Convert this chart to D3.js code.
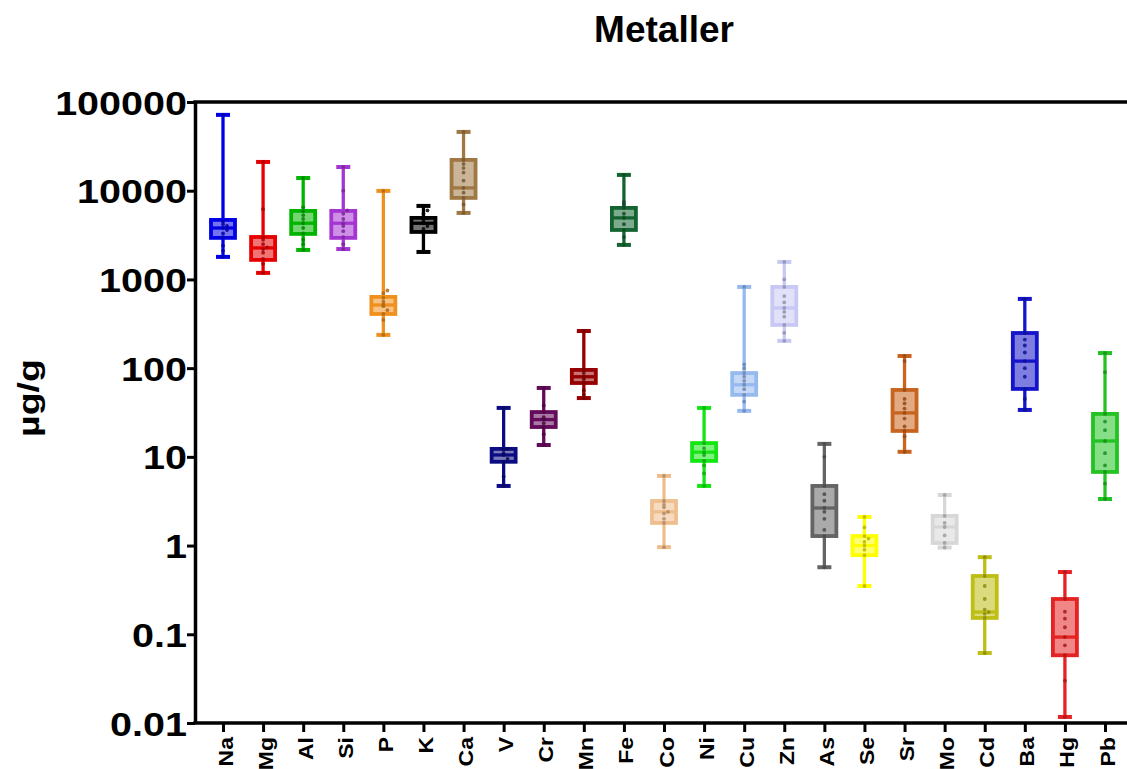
<!DOCTYPE html>
<html>
<head>
<meta charset="utf-8">
<script src="https://cdn.jsdelivr.net/npm/d3@7"></script>
<style>
  html, body { margin: 0; padding: 0; background: #fff; }
  svg { display: block; }
  text { font-family: "Liberation Sans", Arial, sans-serif; font-weight: bold; fill: #000; }
</style>
</head>
<body>
<svg id="chart" width="1127" height="769"></svg>
<script>
// ---------------- data ----------------
const categories = ["Na","Mg","Al","Si","P","K","Ca","V","Cr","Mn","Fe","Co","Ni","Cu","Zn","As","Se","Sr","Mo","Cd","Ba","Hg","Pb"];
const mins    = [1795, 1185, 2150, 2200, 237, 2040, 5620, 4.7, 13.6, 46, 2450, 0.96, 4.7, 33, 203, 0.57, 0.35, 11.4, 0.95, 0.0615, 33.8, 0.0117, 3.35];
const q1s     = [2940, 1660, 3260, 2940, 408, 3430, 8300, 8.8, 21.7, 68, 3610, 1.8, 9.0, 50, 307, 1.28, 0.78, 19.6, 1.07, 0.153, 58.3, 0.058, 6.76];
const medians = [3800, 2265, 4300, 4300, 515, 4300, 10760, 10.5, 26.3, 80, 4940, 2.4, 11.3, 65, 477, 2.65, 1.0, 31.3, 1.62, 0.178, 120, 0.093, 15.1];
const q3s     = [4690, 3010, 5920, 5920, 635, 4940, 22250, 12.3, 32, 95.5, 6400, 3.18, 14.3, 88, 823, 4.7, 1.28, 56.8, 2.16, 0.454, 249, 0.25, 30.5];
const maxs    = [71600, 21100, 13900, 18500, 9950, 6740, 46000, 35.6, 59.8, 262, 15070, 6.1, 35.6, 823, 1575, 14, 2.1, 137, 3.72, 0.74, 603, 0.503, 148];
const points = [
  [1795, 2100, 2400, 3000, 3300, 3600, 3800, 4000, 4200, 4500, 71600],
  [1185, 1500, 1700, 2000, 2200, 2300, 2500, 2800, 3000, 6200, 21100],
  [2150, 2500, 2800, 3300, 3800, 4300, 4800, 5300, 5900, 6500, 13900],
  [2200, 2500, 3000, 3500, 4000, 4300, 4800, 5500, 6000, 10000, 18500],
  [237, 350, 410, 450, 500, 520, 560, 620, 700, 750, 9950],
  [2040, 3400, 3700, 4000, 4300, 4600, 4900, 5500, 6000, 6740],
  [5620, 7000, 8300, 9500, 10760, 13000, 16000, 18000, 20000, 22250, 46000],
  [4.7, 6, 8.8, 9.5, 10.5, 11, 12, 12.3, 35.6],
  [13.6, 18, 21.7, 24, 26.3, 28, 32, 38, 59.8],
  [46, 50, 56, 68, 75, 80, 88, 95.5, 262],
  [2450, 3000, 3610, 4200, 4940, 5500, 6400, 7000, 7500, 15070],
  [0.96, 1.8, 2.0, 2.3, 2.4, 2.7, 2.9, 3.18, 6.1],
  [4.7, 6.5, 8, 9, 10.5, 11.3, 12.5, 14.3, 35.6],
  [33, 42, 50, 58, 65, 72, 80, 88, 100, 110, 823],
  [203, 250, 307, 380, 430, 477, 550, 650, 823, 1000, 1575],
  [0.57, 1.28, 1.5, 2.0, 2.4, 2.65, 3.2, 3.8, 4.7, 10, 14],
  [0.35, 0.78, 0.9, 1.0, 1.1, 1.2, 1.28, 1.6, 2.1],
  [11.4, 17, 19.6, 22, 27, 31.3, 35, 40, 45, 56.8, 120, 137],
  [0.95, 1.07, 1.3, 1.62, 1.8, 2.16, 3.72],
  [0.0615, 0.153, 0.17, 0.178, 0.19, 0.25, 0.35, 0.454, 0.74],
  [33.8, 45, 58.3, 80, 100, 120, 150, 180, 210, 249, 603],
  [0.0117, 0.03, 0.058, 0.075, 0.093, 0.12, 0.15, 0.18, 0.25, 0.503],
  [3.35, 5, 6.76, 8, 11, 15.1, 20, 25, 30.5, 90, 148]
];
const colors = ["#0000e6","#e60000","#00b400","#a535d2","#f0901e","#000000","#a07844","#0c0c82","#640a5a","#960000","#146432","#f0be8c","#14e614","#96b9f0","#c8c8f5","#646464","#ffff00","#c8641e","#d7d7d7","#bebe14","#1414c8","#e62323","#23c323"];
const yTicks = [0.01, 0.1, 1, 10, 100, 1000, 10000, 100000];
const yTickLabels = ["0.01", "0.1", "1", "10", "100", "1000", "10000", "100000"];
const titleText = "Metaller";
const yLabelText = "µg/g";

// ---------------- layout ----------------
const W = 1127;
const plotLeft = 195, plotTop = 102, plotBottom = 723;
const svg = d3.select("#chart");

const x = d3.scalePoint().domain(categories).range([223, 1105]);
const y = d3.scaleLog().domain([0.01, 100000]).range([plotBottom, plotTop]);

const boxW = 24, capW = 14, sw = 3.3, boxSw = 3.8;

// title
svg.append("text").attr("x", 664).attr("y", 42).attr("text-anchor", "middle")
  .style("font-size", "37px").text(titleText);

// y label
svg.append("text")
  .attr("transform", `translate(39,398) rotate(-90) scale(1.25,1)`)
  .attr("text-anchor", "middle")
  .style("font-size", "30px").text(yLabelText);

// boxes
const g = svg.append("g");
categories.forEach((c, i) => {
  const cx = x(c), col = colors[i];
  const gg = g.append("g");
  gg.append("line").attr("x1", cx).attr("x2", cx).attr("y1", y(mins[i])).attr("y2", y(q1s[i]))
    .attr("stroke", col).attr("stroke-width", sw);
  gg.append("line").attr("x1", cx).attr("x2", cx).attr("y1", y(q3s[i])).attr("y2", y(maxs[i]))
    .attr("stroke", col).attr("stroke-width", sw);
  [mins[i], maxs[i]].forEach(v => {
    gg.append("line").attr("x1", cx - capW / 2).attr("x2", cx + capW / 2).attr("y1", y(v)).attr("y2", y(v))
      .attr("stroke", col).attr("stroke-width", 4);
  });
  gg.append("rect").attr("x", cx - boxW / 2).attr("width", boxW)
    .attr("y", y(q3s[i])).attr("height", y(q1s[i]) - y(q3s[i]))
    .attr("fill", col).attr("fill-opacity", 0.55)
    .attr("stroke", col).attr("stroke-width", boxSw);
  gg.append("line").attr("x1", cx - boxW / 2).attr("x2", cx + boxW / 2)
    .attr("y1", y(medians[i])).attr("y2", y(medians[i]))
    .attr("stroke", col).attr("stroke-width", sw);
  const bins = {};
  const dcol = d3.color(col).darker(0.9).formatHex();
  points[i].forEach(v => {
    const py = y(v);
    const b = Math.round(py / 4);
    const k = bins[b] = (bins[b] || 0) + 1;
    const off = (k === 1) ? 0 : (k % 2 === 0 ? 1 : -1) * Math.floor(k / 2) * 4;
    gg.append("circle").attr("cx", cx + off).attr("cy", py).attr("r", 1.9)
      .attr("fill", dcol).attr("fill-opacity", 0.85);
  });
});

// y axis
const yAxis = d3.axisLeft(y).tickValues(yTicks)
  .tickFormat((d, i) => yTickLabels[i]).tickSize(8).tickSizeOuter(0).tickPadding(0);
const ya = svg.append("g").attr("transform", `translate(${plotLeft},0)`).call(yAxis);
ya.select(".domain").attr("stroke", "#000").attr("stroke-width", 3.5);
ya.selectAll(".tick line").attr("stroke", "#000").attr("stroke-width", 3);
ya.selectAll(".tick text")
  .attr("transform", "scale(1.18,1)")
  .attr("x", -8 / 1.18).attr("dy", "0.36em")
  .style("font-size", "33.5px").style("font-family", "'Liberation Sans', Arial, sans-serif");

// x axis
const xAxis = d3.axisBottom(x).tickSize(9).tickSizeOuter(0);
const xa = svg.append("g").attr("transform", `translate(0,${plotBottom})`).call(xAxis);
xa.select(".domain").remove();
xa.selectAll(".tick line").attr("stroke", "#000").attr("stroke-width", 3);
xa.selectAll(".tick text")
  .attr("transform", "rotate(-90) scale(1.15,1)")
  .attr("text-anchor", "end")
  .attr("x", -14 / 1.15).attr("y", 9).attr("dy", 0)
  .style("font-size", "20px").style("font-family", "'Liberation Sans', Arial, sans-serif");

// frame lines (bottom and top)
svg.append("line").attr("x1", plotLeft - 1.75).attr("x2", W).attr("y1", plotBottom).attr("y2", plotBottom)
  .attr("stroke", "#000").attr("stroke-width", 3.5);
svg.append("line").attr("x1", plotLeft - 1.75).attr("x2", W).attr("y1", plotTop).attr("y2", plotTop)
  .attr("stroke", "#000").attr("stroke-width", 3.5);
</script>
</body>
</html>
